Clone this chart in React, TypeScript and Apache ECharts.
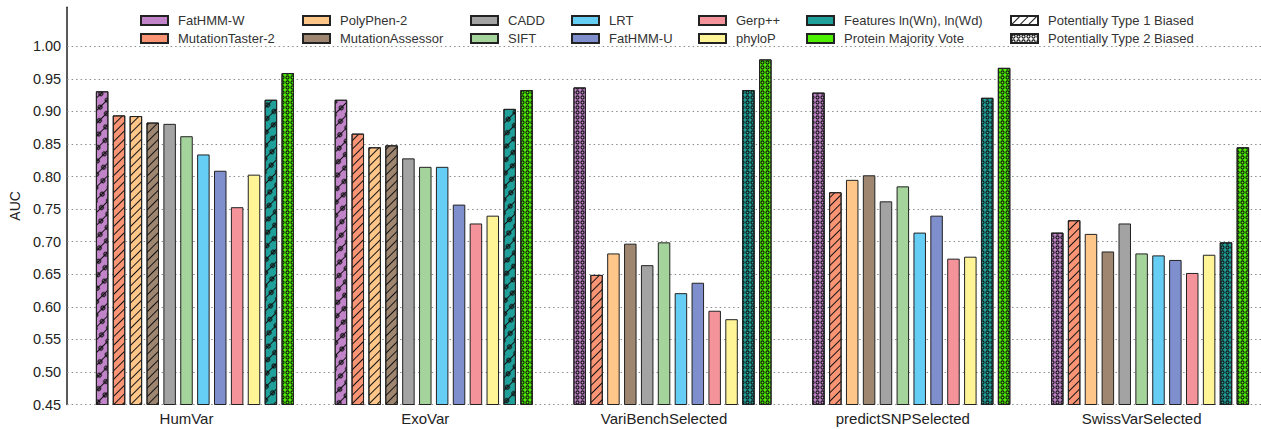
import React, { useEffect, useRef } from "react";
import * as echarts from "echarts";

// ---------- data ----------
const categories = ["HumVar", "ExoVar", "VariBenchSelected", "predictSNPSelected", "SwissVarSelected"];

const fathmmW = [0.931, 0.918, 0.937, 0.929, 0.714];
const mutationTaster2 = [0.894, 0.866, 0.649, 0.776, 0.733];
const polyPhen2 = [0.893, 0.845, 0.682, 0.795, 0.712];
const mutationAssessor = [0.883, 0.848, 0.697, 0.802, 0.685];
const cadd = [0.881, 0.828, 0.664, 0.762, 0.728];
const sift = [0.862, 0.815, 0.699, 0.785, 0.682];
const lrt = [0.834, 0.815, 0.621, 0.714, 0.679];
const fathmmU = [0.809, 0.757, 0.637, 0.74, 0.672];
const gerp = [0.753, 0.728, 0.594, 0.674, 0.652];
const phyloP = [0.803, 0.74, 0.581, 0.677, 0.68];
const features = [0.918, 0.904, 0.933, 0.921, 0.699];
const majorityVote = [0.959, 0.933, 0.98, 0.967, 0.845];

// bias pattern per bar: "h" = type 1 (hatch), "d" = type 2 (dots), "hd" = both, "" = none
const fathmmWBias = ["hd", "hd", "d", "d", "d"];
const mutationTasterBias = ["h", "h", "h", "h", "h"];
const polyPhenBias = ["h", "h", "", "", ""];
const mutationAssessorBias = ["h", "h", "", "", ""];
const featuresBias = ["hd", "hd", "d", "d", "d"];
const majorityVoteBias = ["d", "d", "d", "d", "d"];
const noBias = ["", "", "", "", ""];

// y axis
const yMin = 0.45;
const yMax = 1.06;
const yStep = 0.05;
const yLabelMax = 1.0;
const gridValues = [0.45, 0.5, 0.55, 0.6, 0.65, 0.7, 0.75, 0.8, 0.85, 0.9, 0.95, 1.0];

const type1Name = "Potentially Type 1 Biased";
const type2Name = "Potentially Type 2 Biased";

const seriesDefs = [
  { name: "FatHMM-W", values: fathmmW, bias: fathmmWBias, color: "#c184c9" },
  { name: "MutationTaster-2", values: mutationTaster2, bias: mutationTasterBias, color: "#f99575" },
  { name: "PolyPhen-2", values: polyPhen2, bias: polyPhenBias, color: "#fec689" },
  { name: "MutationAssessor", values: mutationAssessor, bias: mutationAssessorBias, color: "#9e8671" },
  { name: "CADD", values: cadd, bias: noBias, color: "#a3a3a3" },
  { name: "SIFT", values: sift, bias: noBias, color: "#a4d49b" },
  { name: "LRT", values: lrt, bias: noBias, color: "#66cdf5" },
  { name: "FatHMM-U", values: fathmmU, bias: noBias, color: "#7f8ecc" },
  { name: "Gerp++", values: gerp, bias: noBias, color: "#f5939b" },
  { name: "phyloP", values: phyloP, bias: noBias, color: "#fff496" },
  { name: "Features ln(Wn), ln(Wd)", values: features, bias: featuresBias, color: "#20a09a" },
  { name: "Protein Majority Vote", values: majorityVote, bias: majorityVoteBias, color: "#4cf000" },
];

const legendColumns = [
  ["FatHMM-W", "MutationTaster-2"],
  ["PolyPhen-2", "MutationAssessor"],
  ["CADD", "SIFT"],
  ["LRT", "FatHMM-U"],
  ["Gerp++", "phyloP"],
  ["Features ln(Wn), ln(Wd)", "Protein Majority Vote"],
  [type1Name, type2Name],
];
const legendLefts = [135, 297, 465, 566, 693, 801, 1005];

// ---------- decals ----------
const ringPath =
  "path://M0,5A5,5 0 1 1 10,5A5,5 0 1 1 0,5Z M2.6,5A2.4,2.4 0 1 0 7.4,5A2.4,2.4 0 1 0 2.6,5Z";
const chainPath =
  "path://M0,2L10,2L10,3L0,3Z M2.5,2.5A2.5,2.5 0 1 1 7.5,2.5A2.5,2.5 0 1 1 2.5,2.5Z M3.8,2.5A1.2,1.2 0 1 0 6.2,2.5A1.2,1.2 0 1 0 3.8,2.5Z";

const hatchDecal = {
  symbol: "rect",
  symbolSize: 1,
  dashArrayX: [1, 0],
  dashArrayY: [1, 5],
  rotation: -Math.PI / 4,
  color: "#111",
};
const dotDecal = {
  symbol: ringPath,
  symbolSize: 0.85,
  dashArrayX: [5, 0],
  dashArrayY: [5, 0],
  rotation: 0,
  color: "#111",
};
const chainDecal = {
  symbol: chainPath,
  symbolSize: 1,
  dashArrayX: [10, 0],
  dashArrayY: [5, 4],
  rotation: -Math.PI / 4,
  color: "#111",
};

function decalFor(code: string) {
  if (code === "h") return hatchDecal;
  if (code === "d") return dotDecal;
  if (code === "hd") return chainDecal;
  return undefined;
}

const FONT = "'Liberation Sans', Arial, Helvetica, sans-serif";
const BAR_WIDTH = 12.5;
const BAR_GAP = "35%";

export default function App() {
  const ref = useRef<HTMLDivElement>(null);

  useEffect(() => {
    if (!ref.current) return;
    const chart = echarts.init(ref.current, undefined, { renderer: "svg" });

    const barSeries: any[] = seriesDefs.map((s, si) => {
      const ser: any = {
        name: s.name,
        type: "bar",
        xAxisIndex: 0,
        yAxisIndex: 0,
        barWidth: BAR_WIDTH,
        barGap: BAR_GAP,
        itemStyle: { color: s.color, borderColor: "#222", borderWidth: 1 },
        data: s.values.map((v, i) => {
          const d = decalFor(s.bias[i]);
          return d ? { value: v, itemStyle: { decal: d } } : { value: v };
        }),
      };
      if (si === 0) {
        ser.markLine = {
          silent: true,
          z: 1,
          symbol: "none",
          label: { show: false },
          lineStyle: { color: "#8c8c8c", width: 1, type: [1.5, 3] },
          emphasis: { disabled: true },
          data: gridValues.map((v) => ({ yAxis: v })),
        };
      }
      return ser;
    });

    // legend-only series for the two bias patterns; the first one also occupies an
    // empty slot at the left of each group (the groups sit right of the tick labels)
    const type1Series: any = {
      name: type1Name,
      type: "bar",
      xAxisIndex: 0,
      yAxisIndex: 0,
      barWidth: BAR_WIDTH,
      barGap: BAR_GAP,
      itemStyle: { color: "#ffffff", borderColor: "#222", borderWidth: 1, decal: hatchDecal },
      data: [],
    };
    const type2Series: any = {
      name: type2Name,
      type: "bar",
      xAxisIndex: 1,
      yAxisIndex: 1,
      itemStyle: { color: "#ffffff", borderColor: "#222", borderWidth: 1, decal: dotDecal },
      data: [],
    };

    const legends = legendColumns.map((col, i) => ({
      orient: "vertical",
      left: legendLefts[i],
      top: 9,
      itemWidth: 27,
      itemHeight: 9,
      itemGap: 5,
      icon: "rect",
      selectedMode: false,
      data: col,
      textStyle: { fontFamily: FONT, fontSize: 13, color: "#333", padding: [0, 0, 0, 5] },
    }));

    chart.setOption({
      animation: false,
      backgroundColor: "#ffffff",
      textStyle: { fontFamily: FONT },
      legend: legends,
      grid: [
        { left: 60.5, right: -2.5, top: 7.3, bottom: 24.5, containLabel: false },
        { left: 0, top: 0, width: 1, height: 1, show: false },
      ],
      xAxis: [
        {
          type: "category",
          gridIndex: 0,
          data: categories,
          axisLine: { show: false },
          axisTick: { show: false },
          axisLabel: { fontSize: 15, color: "#222", margin: 6, fontFamily: FONT },
        },
        { type: "category", gridIndex: 1, show: false, data: [] },
      ],
      yAxis: [
        {
          type: "value",
          gridIndex: 0,
          min: yMin,
          max: yMax,
          interval: yStep,
          name: "AUC",
          nameLocation: "middle",
          nameGap: 43,
          nameTextStyle: { fontSize: 14, color: "#222", fontFamily: FONT },
          axisLine: { show: true, lineStyle: { color: "#222", width: 1.5 } },
          axisTick: { show: false },
          axisLabel: {
            fontSize: 14.5,
            color: "#222",
            margin: 6,
            fontFamily: FONT,
            showMaxLabel: false,
            formatter: (v: number) => (v > yLabelMax + 1e-6 ? "" : v.toFixed(2)),
          },
          splitLine: { show: false },
        },
        { type: "value", gridIndex: 1, show: false },
      ],
      series: [type1Series, ...barSeries, type2Series],
    });

    return () => chart.dispose();
  }, []);

  return (
    <div
      ref={ref}
      style={{ position: "fixed", left: 0, top: 0, width: 1261, height: 429, background: "#fff" }}
    />
  );
}
